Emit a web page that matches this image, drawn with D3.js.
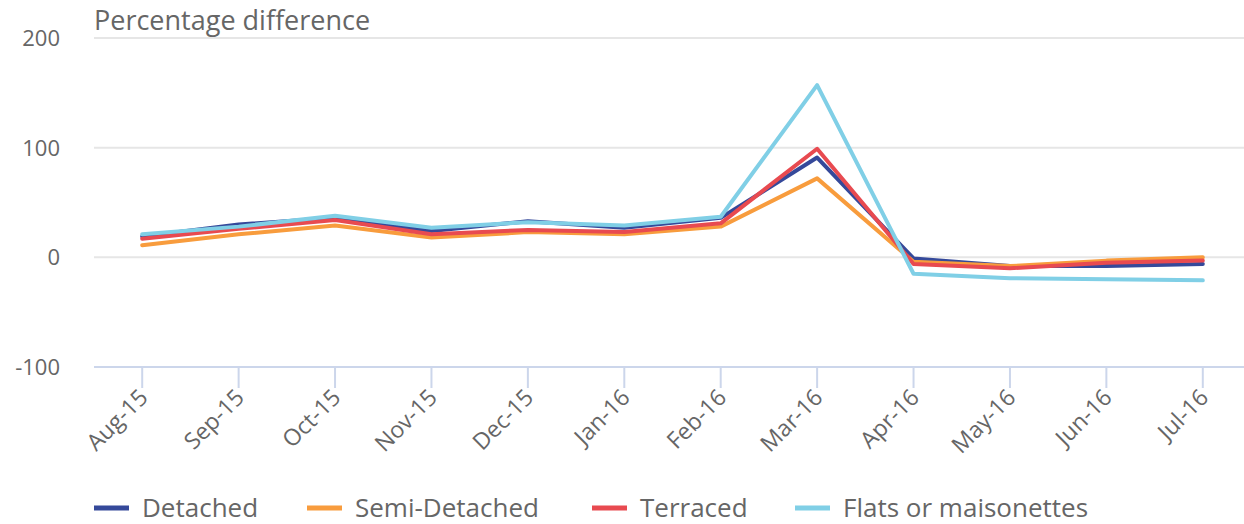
<!DOCTYPE html>
<html>
<head>
<meta charset="utf-8">
<script src="https://cdn.jsdelivr.net/npm/d3@7"></script>
<style>
  body { margin: 0; background: #fff; }
  svg { display: block; font-family: "Open Sans", sans-serif; }
</style>
</head>
<body>
<svg id="chart" width="1244" height="524"></svg>
<script>
// months on the x axis
var months = ["Aug-15", "Sep-15", "Oct-15", "Nov-15", "Dec-15", "Jan-16",
  "Feb-16", "Mar-16", "Apr-16", "May-16", "Jun-16", "Jul-16"];

// percentage difference per property type
var detached     = [19, 30, 36, 24, 33, 27, 36, 91, -1, -8, -8, -6];
var semiDetached = [11, 21, 29, 18, 23, 21, 28, 72, -4, -8, -3, 0];
var terraced     = [17, 26, 34, 21, 25, 23, 31, 99, -6, -10, -5, -3];
var flats        = [21, 28, 38, 27, 32, 29, 37, 157, -15, -19, -20, -21];

var yTicks = [-100, 0, 100, 200];

var seriesList = [
  {name: "Detached", values: detached, color: "#35499a"},
  {name: "Semi-Detached", values: semiDetached, color: "#f89c3d"},
  {name: "Terraced", values: terraced, color: "#e84a50"},
  {name: "Flats or maisonettes", values: flats, color: "#80cfe6"}
];

var svg = d3.select("#chart");
var margin = {left: 94, right: -7, top: 38, bottom: 157};
var width = +svg.attr("width");
var height = +svg.attr("height");

var x = d3.scaleBand()
  .domain(months)
  .range([margin.left, width - margin.right]);

var y = d3.scaleLinear()
  .domain([-100, 200])
  .range([height - margin.bottom, margin.top]);

// 网格线
svg.append("g")
  .selectAll("line")
  .data(yTicks.filter(function (d) { return d !== -100; }))
  .enter()
  .append("line")
  .attr("x1", margin.left)
  .attr("x2", width)
  .attr("y1", function (d) { return y(d); })
  .attr("y2", function (d) { return y(d); })
  .attr("stroke", "#e6e6e6")
  .attr("stroke-width", 2);

// y 轴文字
svg.append("g")
  .selectAll("text")
  .data(yTicks)
  .enter()
  .append("text")
  .attr("x", 60)
  .attr("y", function (d) { return y(d) + 8; })
  .attr("text-anchor", "end")
  .attr("font-size", 22)
  .attr("fill", "#666")
  .text(function (d) { return d; });

svg.append("text")
  .attr("x", margin.left)
  .attr("y", 30)
  .attr("font-size", 27)
  .attr("fill", "#666")
  .text("Percentage difference");

// x 轴
var xAxis = svg.append("g")
  .attr("transform", "translate(0," + y(-100) + ")")
  .call(d3.axisBottom(x).tickSize(21).tickSizeOuter(0));

xAxis.select(".domain")
  .attr("stroke", "#ccd6eb")
  .attr("stroke-width", 2)
  .attr("d", "M" + margin.left + ",0H" + width);
xAxis.selectAll(".tick line")
  .attr("stroke", "#ccd6eb")
  .attr("stroke-width", 2);
xAxis.selectAll(".tick text")
  .attr("font-family", "Open Sans, sans-serif")
  .attr("font-size", 23)
  .attr("fill", "#666")
  .attr("text-anchor", "end")
  .attr("dy", null)
  .attr("transform", "translate(7,32) rotate(-45)")
  .attr("y", 0)
  .attr("x", 0);

// 折线
var line = d3.line()
  .x(function (d, i) { return x(months[i]) + x.bandwidth() / 2; })
  .y(function (d) { return y(d); });

svg.append("g")
  .selectAll("path")
  .data(seriesList)
  .enter()
  .append("path")
  .attr("d", function (d) { return line(d.values); })
  .attr("fill", "none")
  .attr("stroke", function (d) { return d.color; })
  .attr("stroke-width", 4)
  .attr("stroke-linejoin", "round")
  .attr("stroke-linecap", "round");

// 图例
var legendX = [94, 307, 592, 795];
var legend = svg.append("g")
  .selectAll("g")
  .data(seriesList)
  .enter()
  .append("g")
  .attr("transform", function (d, i) { return "translate(" + legendX[i] + ",508)"; });

legend.append("line")
  .attr("x1", 0)
  .attr("x2", 35)
  .attr("y1", 0)
  .attr("y2", 0)
  .attr("stroke", function (d) { return d.color; })
  .attr("stroke-width", 5);

legend.append("text")
  .attr("x", 48)
  .attr("y", 9)
  .attr("font-size", 26)
  .attr("fill", "#666")
  .text(function (d) { return d.name; });
</script>
</body>
</html>
